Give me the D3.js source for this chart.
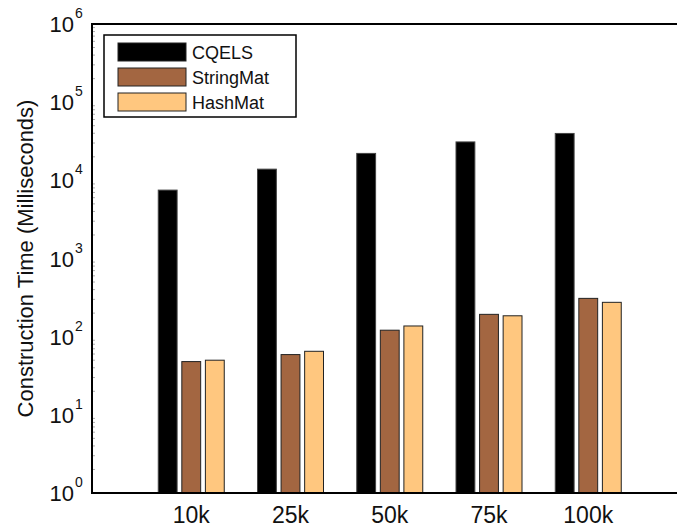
<!DOCTYPE html>
<html>
<head>
<meta charset="utf-8">
<script src="https://cdn.jsdelivr.net/npm/d3@7"></script>
<style>
  html, body { margin: 0; padding: 0; background: #fff; }
  svg { display: block; font-family: "Liberation Sans", Arial, sans-serif; }
</style>
</head>
<body>
<svg id="chart" width="677" height="529"></svg>
<script>
// ─── Data ────────────────────────────────────────────────────────────────
const categories = ["10k", "25k", "50k", "75k", "100k"];
const seriesNames = ["CQELS", "StringMat", "HashMat"];
const cqels = [7500, 13900, 22100, 31000, 39800];
const stringMat = [48, 59, 121, 193, 309];
const hashMat = [50, 65, 137, 185, 275];
const yTickExps = [0, 1, 2, 3, 4, 5, 6];

const seriesValues = [cqels, stringMat, hashMat];
const colors = ["#000000", "#a36641", "#ffc77f"];

// ─── Layout ──────────────────────────────────────────────────────────────
const plotLeft = 92, plotTop = 24, plotBottom = 493, plotRight = 677;
const step = 99.25;

const svg = d3.select("#chart");

const y = d3.scaleLog().domain([1, 1e6]).range([plotBottom, plotTop]);
const x = d3.scaleBand().domain(categories)
  .range([plotLeft + step * 0.5, plotLeft + step * 5.5]);
const x1 = d3.scaleBand().domain(seriesNames).range([-33, 33]).paddingInner(0.2);

// minor ticks (faint, inside)
const minor = [];
for (let e = 0; e < 6; e++) for (let m = 2; m <= 9; m++) minor.push(m * Math.pow(10, e));
svg.append("g").selectAll("line").data(minor).join("line")
  .attr("x1", plotLeft).attr("x2", plotLeft + 3)
  .attr("y1", d => y(d)).attr("y2", d => y(d))
  .attr("stroke", "#999").attr("stroke-width", 0.8);

// bars
const groups = svg.append("g").selectAll("g").data(categories).join("g")
  .attr("transform", d => `translate(${x(d) + x.bandwidth() / 2},0)`);

groups.selectAll("rect")
  .data((c, i) => seriesNames.map((s, j) => ({ s, j, v: seriesValues[j][i] })))
  .join("rect")
  .attr("x", d => x1(d.s))
  .attr("width", x1.bandwidth())
  .attr("y", d => y(d.v))
  .attr("height", d => plotBottom - y(d.v))
  .attr("fill", d => colors[d.j])
  .attr("stroke", d => d.j === 0 ? "#444" : "#222")
  .attr("stroke-width", 1);

// frame: left, top, bottom
svg.append("line").attr("x1", plotLeft).attr("x2", plotRight).attr("y1", plotTop).attr("y2", plotTop)
  .attr("stroke", "#000").attr("stroke-width", 2);
svg.append("line").attr("x1", plotLeft).attr("x2", plotRight).attr("y1", plotBottom).attr("y2", plotBottom)
  .attr("stroke", "#000").attr("stroke-width", 2);
svg.append("line").attr("x1", plotLeft).attr("x2", plotLeft).attr("y1", plotTop - 1).attr("y2", plotBottom + 1)
  .attr("stroke", "#000").attr("stroke-width", 2);

// y tick labels 10^n
svg.append("g").selectAll("text").data(yTickExps).join("text")
  .attr("x", 74).attr("y", d => y(Math.pow(10, d)) + 8)
  .attr("text-anchor", "end")
  .attr("font-size", 22).attr("fill", "#111")
  .text("10");
svg.append("g").selectAll("text").data(yTickExps).join("text")
  .attr("x", 75).attr("y", d => y(Math.pow(10, d)) - 6)
  .attr("font-size", 14).attr("fill", "#111")
  .text(d => d);

// x tick labels
svg.append("g").selectAll("text").data(categories).join("text")
  .attr("x", d => x(d) + x.bandwidth() / 2)
  .attr("y", 523)
  .attr("text-anchor", "middle")
  .attr("font-size", 23).attr("fill", "#111")
  .text(d => d);

// y axis label
svg.append("text")
  .attr("transform", `translate(33,${(plotTop + plotBottom) / 2}) rotate(-90)`)
  .attr("text-anchor", "middle")
  .attr("font-size", 22).attr("fill", "#111")
  .text("Construction Time (Milliseconds)");

// legend
const lg = svg.append("g");
lg.append("rect").attr("x", 104).attr("y", 35).attr("width", 192).attr("height", 82)
  .attr("fill", "#fff").attr("stroke", "#000").attr("stroke-width", 1.5);
const rows = lg.selectAll("g").data(seriesNames).join("g")
  .attr("transform", (d, i) => `translate(118,${43 + i * 25})`);
rows.append("rect").attr("width", 68).attr("height", 18)
  .attr("fill", (d, i) => colors[i]).attr("stroke", "#222").attr("stroke-width", 1);
rows.append("text").attr("x", 74).attr("y", 16)
  .attr("font-size", 18).attr("fill", "#111")
  .text(d => d);
</script>
</body>
</html>
